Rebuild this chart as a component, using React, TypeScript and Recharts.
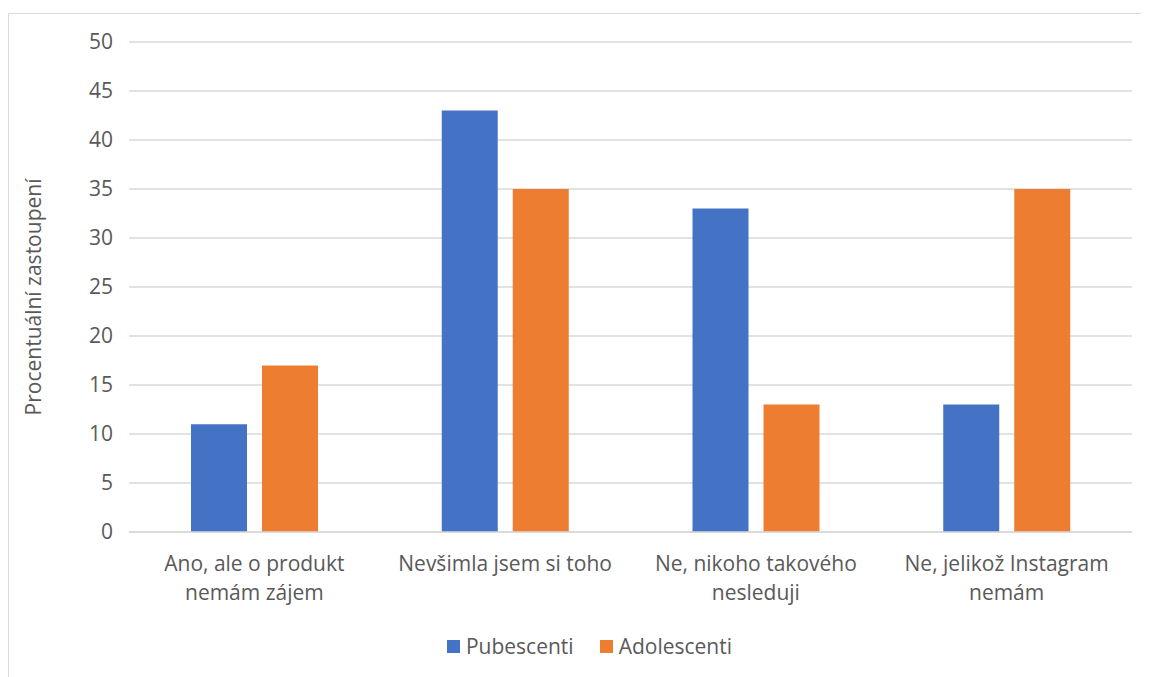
import { Bar, BarChart, CartesianGrid, Legend, XAxis, YAxis } from "recharts";

const categories = [
  "Ano, ale o produkt|nemám zájem",
  "Nevšimla jsem si toho",
  "Ne, nikoho takového|nesleduji",
  "Ne, jelikož Instagram|nemám",
];
const pubescenti = [11, 43, 33, 13];
const adolescenti = [17, 35, 13, 35];
const yTicks = [0, 5, 10, 15, 20, 25, 30, 35, 40, 45, 50];

const BLUE = "#4472c4";
const ORANGE = "#ed7d31";
const TEXT = "#595959";
const FONT = "'Open Sans', sans-serif";
const FS = 21;

const data = categories.map((name, i) => ({
  name,
  Pubescenti: pubescenti[i],
  Adolescenti: adolescenti[i],
}));

// category labels broken into lines at "|"
const CategoryTick = ({ x, y, payload }: any) => {
  const lines = String(payload.value).split("|");
  return (
    <text x={x} y={y} textAnchor="middle" fill={TEXT} fontSize={FS} fontFamily={FONT}>
      {lines.map((line, i) => (
        <tspan key={i} x={x} dy={i === 0 ? 31 : 29}>
          {line}
        </tspan>
      ))}
    </text>
  );
};

const YTitle = ({ viewBox }: any) => {
  const cx = 25;
  const cy = viewBox.y + viewBox.height / 2 + 10;
  return (
    <text
      x={cx}
      y={cy}
      transform={`rotate(-90, ${cx}, ${cy})`}
      textAnchor="middle"
      dominantBaseline="central"
      fill={TEXT}
      fontSize={FS}
      fontFamily={FONT}
    >
      Procentuální zastoupení
    </text>
  );
};

const LegendBox = () => (
  <div
    style={{
      display: "flex",
      justifyContent: "center",
      gap: 26,
      paddingLeft: 22,
      fontFamily: FONT,
      fontSize: FS,
      color: TEXT,
      lineHeight: "28px",
    }}
  >
    {[
      ["Pubescenti", BLUE],
      ["Adolescenti", ORANGE],
    ].map(([label, color]) => (
      <div key={label} style={{ display: "flex", alignItems: "center", gap: 6 }}>
        <span style={{ width: 13, height: 13, background: color, display: "inline-block" }} />
        <span>{label}</span>
      </div>
    ))}
  </div>
);

export default function App() {
  return (
    <div style={{ position: "relative", width: 1141, height: 669 }}>
      <div
        style={{
          position: "absolute",
          left: 0,
          top: 5,
          right: 0,
          bottom: 0,
          borderLeft: "1px solid #d9d9d9",
          borderTop: "1px solid #d9d9d9",
        }}
      />
      <BarChart
        width={1141}
        height={669}
        data={data}
        margin={{ top: 34, right: 17, bottom: 17, left: 0 }}
        barCategoryGap="24.7%"
        barGap={15}
        style={{ position: "relative" }}
      >
        <CartesianGrid vertical={false} stroke="#d9d9d9" strokeWidth={1.3} />
        <XAxis
          dataKey="name"
          tick={<CategoryTick />}
          tickLine={false}
          axisLine={{ stroke: "#d9d9d9", strokeWidth: 1.3 }}
          interval={0}
          height={100}
        />
        <YAxis
          domain={[0, 50]}
          ticks={yTicks}
          width={121}
          tickLine={false}
          axisLine={false}
          tickSize={8}
          tickMargin={8}
          tick={{ fill: TEXT, fontSize: FS, fontFamily: FONT }}
          label={<YTitle />}
        />
        <Legend
          content={<LegendBox />}
          wrapperStyle={{ top: 624, left: 0, width: 1141 }}
        />
        <Bar dataKey="Pubescenti" fill={BLUE} barSize={56} isAnimationActive={false} />
        <Bar dataKey="Adolescenti" fill={ORANGE} barSize={56} isAnimationActive={false} />
      </BarChart>
    </div>
  );
}
